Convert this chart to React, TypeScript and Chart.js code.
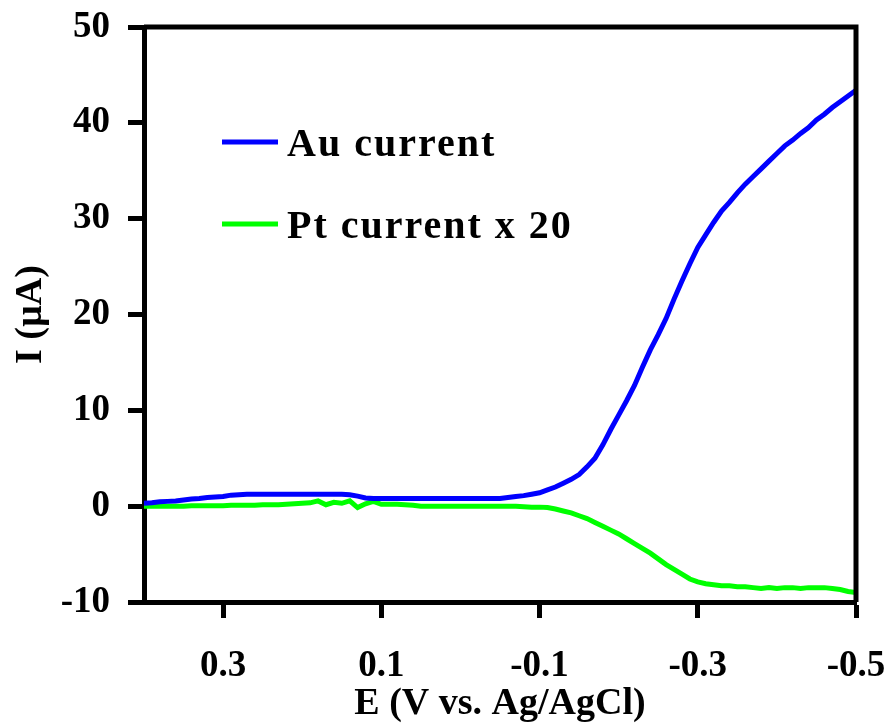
import React, { useEffect, useRef } from "react";
import { Chart, registerables } from "chart.js";

Chart.register(...registerables);

// Electrode potential (V vs. Ag/AgCl), swept from +0.40 to -0.50
const POTENTIAL = [
  0.40, 0.39, 0.38, 0.37, 0.36, 0.35, 0.34, 0.33, 0.32, 0.31,
  0.30, 0.29, 0.28, 0.27, 0.26, 0.25, 0.24, 0.23, 0.22, 0.21,
  0.20, 0.19, 0.18, 0.17, 0.16, 0.15, 0.14, 0.13, 0.12, 0.11,
  0.10, 0.09, 0.08, 0.07, 0.06, 0.05, 0.04, 0.03, 0.02, 0.01,
  0.00, -0.01, -0.02, -0.03, -0.04, -0.05, -0.06, -0.07, -0.08, -0.09,
  -0.10, -0.11, -0.12, -0.13, -0.14, -0.15, -0.16, -0.17, -0.18, -0.19,
  -0.20, -0.21, -0.22, -0.23, -0.24, -0.25, -0.26, -0.27, -0.28, -0.29,
  -0.30, -0.31, -0.32, -0.33, -0.34, -0.35, -0.36, -0.37, -0.38, -0.39,
  -0.40, -0.41, -0.42, -0.43, -0.44, -0.45, -0.46, -0.47, -0.48, -0.49,
  -0.50,
];

// Au electrode current (µA)
const AU_CURRENT = [
  0.30, 0.35, 0.45, 0.50, 0.55, 0.65, 0.75, 0.80, 0.90, 0.95,
  1.00, 1.15, 1.20, 1.25, 1.25, 1.25, 1.25, 1.25, 1.25, 1.25,
  1.25, 1.25, 1.25, 1.25, 1.25, 1.25, 1.20, 1.05, 0.85, 0.80,
  0.80, 0.80, 0.80, 0.80, 0.80, 0.80, 0.80, 0.80, 0.80, 0.80,
  0.80, 0.80, 0.80, 0.80, 0.80, 0.80, 0.90, 1.00, 1.10, 1.25,
  1.40, 1.70, 2.00, 2.40, 2.80, 3.30, 4.10, 5.00, 6.40, 8.00,
  9.50, 11.0, 12.6, 14.5, 16.3, 17.9, 19.6, 21.6, 23.5, 25.3,
  27.0, 28.3, 29.6, 30.8, 31.7, 32.7, 33.6, 34.4, 35.2, 36.0,
  36.8, 37.6, 38.2, 38.9, 39.5, 40.3, 40.9, 41.6, 42.2, 42.8,
  43.4,
];

// Pt electrode current multiplied by 20 (µA)
const PT_CURRENT_X20 = [
  0.00, 0.00, 0.00, 0.00, 0.00, 0.00, 0.05, 0.05, 0.05, 0.05,
  0.05, 0.10, 0.10, 0.10, 0.10, 0.15, 0.15, 0.15, 0.20, 0.25,
  0.30, 0.35, 0.55, 0.15, 0.40, 0.30, 0.55, -0.15, 0.25, 0.50,
  0.20, 0.20, 0.20, 0.15, 0.10, 0.00, 0.00, 0.00, 0.00, 0.00,
  0.00, 0.00, 0.00, 0.00, 0.00, 0.00, 0.00, 0.00, -0.05, -0.10,
  -0.10, -0.15, -0.30, -0.50, -0.70, -1.00, -1.30, -1.70, -2.10, -2.50,
  -2.90, -3.40, -3.90, -4.40, -4.90, -5.50, -6.10, -6.60, -7.10, -7.60,
  -7.90, -8.10, -8.20, -8.30, -8.30, -8.40, -8.40, -8.50, -8.60, -8.50,
  -8.60, -8.50, -8.50, -8.60, -8.50, -8.50, -8.50, -8.60, -8.70, -8.90,
  -9.00,
];

const SERIES_LABELS = ["Au current", "Pt current x 20"];
const SERIES_COLORS = ["#0000ff", "#00ff00"];

const X_TICKS = [0.3, 0.1, -0.1, -0.3, -0.5];
const X_TICK_LABELS = ["0.3", "0.1", "-0.1", "-0.3", "-0.5"];
const X_TITLE = "E (V vs. Ag/AgCl)";
const Y_TITLE = "I (\u00b5A)";

const FONT = "'Liberation Serif', 'Times New Roman', serif";

// Black box around the plotting area
const framePlugin = {
  id: "frame",
  afterDatasetsDraw(chart: any) {
    const { ctx, chartArea } = chart;
    ctx.save();
    ctx.strokeStyle = "#000";
    ctx.lineWidth = 5;
    ctx.beginPath();
    ctx.moveTo(chartArea.left, chartArea.top);
    ctx.lineTo(chartArea.right, chartArea.top);
    ctx.lineTo(chartArea.right, chartArea.bottom);
    ctx.stroke();
    ctx.restore();
  },
};

// Legend drawn inside the plotting area, upper left
const insideLegendPlugin = {
  id: "insideLegend",
  afterDraw(chart: any) {
    const { ctx, chartArea } = chart;
    const x0 = chartArea.left + 78;
    const lineLen = 56;
    const rows = [chartArea.top + 115, chartArea.top + 197];
    ctx.save();
    ctx.font = `bold 40px ${FONT}`;
    ctx.textBaseline = "middle";
    ctx.textAlign = "left";
    (ctx as any).letterSpacing = "2px";
    chart.data.datasets.forEach((ds: any, i: number) => {
      const y = rows[i];
      ctx.strokeStyle = ds.borderColor;
      ctx.lineWidth = 5;
      ctx.beginPath();
      ctx.moveTo(x0, y);
      ctx.lineTo(x0 + lineLen, y);
      ctx.stroke();
      ctx.fillStyle = "#000";
      ctx.fillText(ds.label, x0 + lineLen + 9, y + 4);
    });
    ctx.restore();
  },
};

export default function App() {
  const canvasRef = useRef<HTMLCanvasElement | null>(null);

  useEffect(() => {
    document.body.style.margin = "0";
    const canvas = canvasRef.current;
    if (!canvas) return;

    const series = [AU_CURRENT, PT_CURRENT_X20];
    const chart = new Chart(canvas, {
      type: "line",
      data: {
        datasets: series.map((vals, i) => ({
          label: SERIES_LABELS[i],
          data: POTENTIAL.map((e, k) => ({ x: e, y: vals[k] })),
          borderColor: SERIES_COLORS[i],
          backgroundColor: SERIES_COLORS[i],
          borderWidth: 5,
          pointRadius: 0,
          tension: 0,
        })),
      },
      options: {
        animation: false,
        responsive: false,
        maintainAspectRatio: false,
        layout: { padding: { top: 27, right: 37, left: 0, bottom: 0 } },
        plugins: {
          legend: { display: false },
          tooltip: { enabled: false },
        },
        scales: {
          x: {
            type: "linear",
            min: -0.5,
            max: 0.4,
            reverse: true,
            afterBuildTicks: (scale: any) => {
              scale.ticks = X_TICKS.map((v) => ({ value: v }));
            },
            afterFit: (scale: any) => {
              scale.height = 125;
              scale.paddingLeft = 0;
              scale.paddingRight = 0;
            },
            ticks: {
              autoSkip: false,
              maxRotation: 0,
              padding: 26,
              color: "#000",
              font: { family: FONT, size: 37, weight: "bold" },
              callback: (v: any) => {
                const idx = X_TICKS.findIndex((t) => Math.abs(t - Number(v)) < 1e-9);
                return idx >= 0 ? X_TICK_LABELS[idx] : "";
              },
            },
            grid: {
              drawOnChartArea: false,
              tickLength: 16,
              tickWidth: 5,
              tickColor: "#000",
            },
            border: { display: true, width: 5, color: "#000" },
            title: {
              display: true,
              text: X_TITLE,
              color: "#000",
              font: { family: FONT, size: 38, weight: "bold" },
              padding: { top: 0, bottom: 0 },
            },
          },
          y: {
            type: "linear",
            min: -10,
            max: 50,
            afterFit: (scale: any) => {
              scale.width = 144;
              scale.paddingTop = 0;
              scale.paddingBottom = 0;
            },
            ticks: {
              stepSize: 10,
              padding: 18,
              color: "#000",
              font: { family: FONT, size: 37, weight: "bold" },
            },
            grid: {
              drawOnChartArea: false,
              tickLength: 16,
              tickWidth: 5,
              tickColor: "#000",
            },
            border: { display: true, width: 5, color: "#000" },
            title: {
              display: true,
              text: Y_TITLE,
              color: "#000",
              font: { family: FONT, size: 38, weight: "bold" },
              padding: { top: 8, bottom: 0 },
            },
          },
        },
      },
      plugins: [framePlugin, insideLegendPlugin],
    });

    return () => {
      chart.destroy();
    };
  }, []);

  return (
    <div style={{ width: 893, height: 727, background: "#fff" }}>
      <canvas ref={canvasRef} width={893} height={727} style={{ display: "block" }} />
    </div>
  );
}
